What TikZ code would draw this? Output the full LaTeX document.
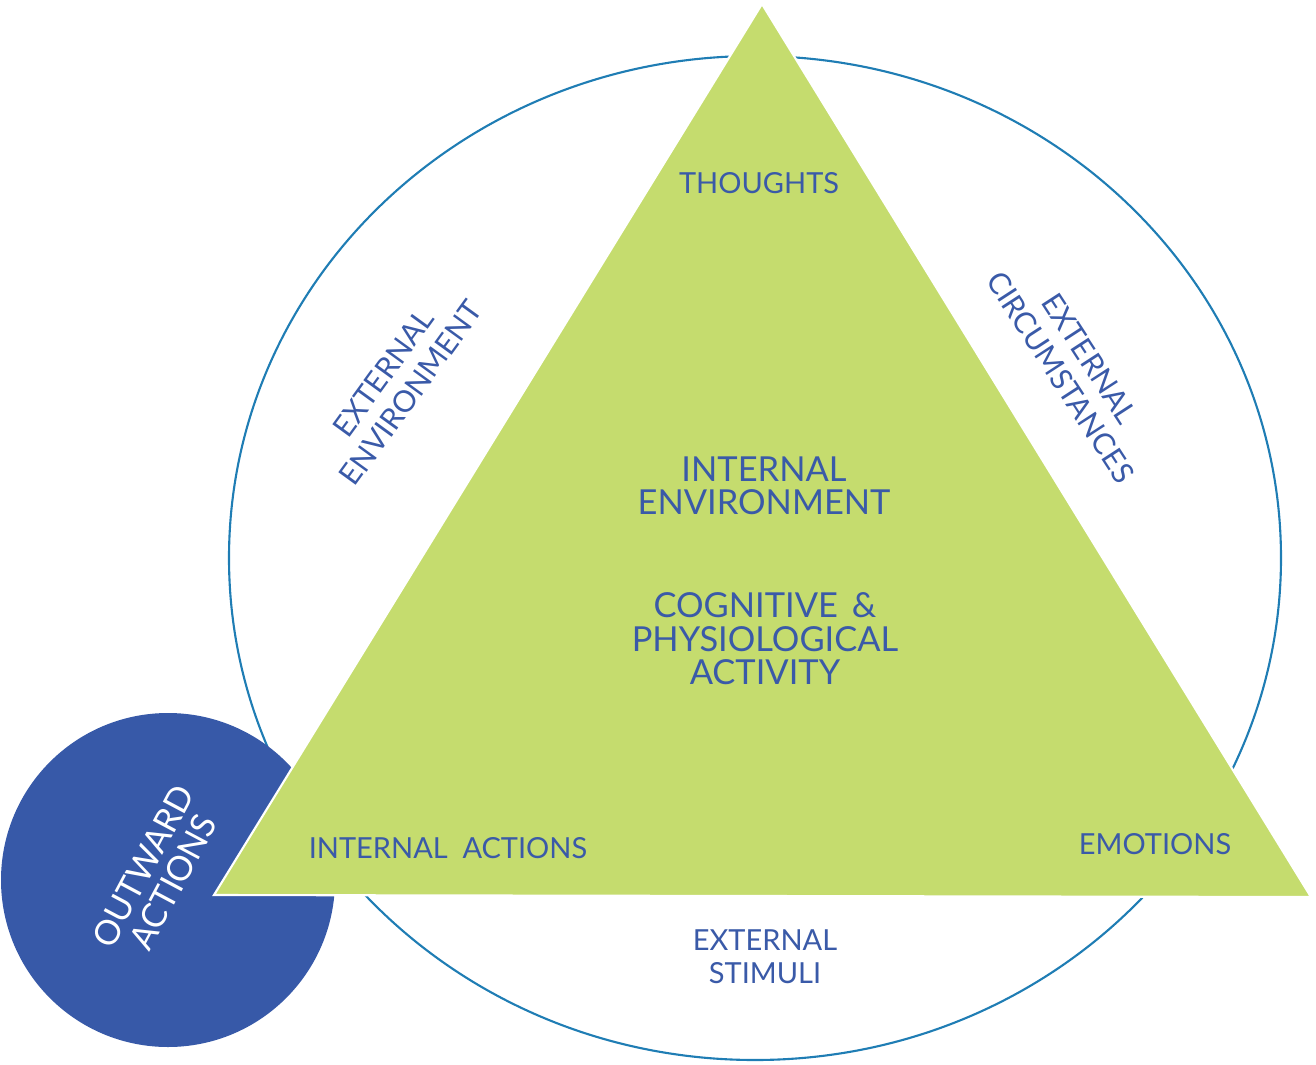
\documentclass[tikz,border=0pt]{standalone}
\usepackage{fontspec}
\setmainfont{Lato}
\definecolor{tgreen}{HTML}{C5DC6E}
\definecolor{tblue}{HTML}{3A5AA8}
\definecolor{cblue}{HTML}{3759A8}
\definecolor{lineblue}{HTML}{1F7DB4}
\tikzset{
  lbl/.style={text=tblue, align=center, inner sep=0pt, font=\fontsize{16.5}{19}\selectfont},
  rlbl/.style={text=tblue, align=center, inner sep=0pt, font=\fontsize{17}{19.5}\selectfont},
  biglbl/.style={text=tblue, align=center, inner sep=0pt, font=\fontsize{19.6}{19}\selectfont},
  wlbl/.style={text=white, align=center, inner sep=0pt, font=\fontsize{19.5}{19.5}\selectfont},
}
\begin{document}
\begin{tikzpicture}[x=0.02cm,y=-0.02cm]
\useasboundingbox (0,0) rectangle (1316,1065);
\coordinate (C) at (755,558);
\draw[lineblue, line width=1.2pt] (C) ellipse [x radius=526, y radius=502];
\node[circle, fill=cblue, minimum size=334*0.02cm, inner sep=0pt] (out) at (168,880) {};
\coordinate (T) at (762,4);
\coordinate (L) at (214,895);
\coordinate (R) at (1311,897);
\filldraw[fill=tgreen, draw=white, line width=1.2pt, line join=miter] (T) -- (L) -- (R) -- cycle;
\node[lbl] (thoughts) at (759,183) {THOUGHTS};
\node[biglbl] (intenv) at (764,486) {INTERNAL\\ENVIRONMENT};
\node[biglbl] (cog) at (765,639) {COGNITIVE\hspace{0.15em} \&\\PHYSIOLOGICAL\\ACTIVITY};
\node[lbl] (intact) at (448,848) {INTERNAL\hspace{0.25em} ACTIONS};
\node[lbl] (emo) at (1155,844) {EMOTIONS};
\node[lbl] (stim) at (765,957) {EXTERNAL\\STIMULI};
\node[rlbl, rotate=54] (extenv) at (397,383) {EXTERNAL\\ENVIRONMENT};
\node[rlbl, rotate=-57] (extcirc) at (1075,368) {EXTERNAL\\CIRCUMSTANCES};
\node[wlbl, rotate=62] (outact) at (158,874) {OUTWARD\\ACTIONS};
\end{tikzpicture}
\end{document}
